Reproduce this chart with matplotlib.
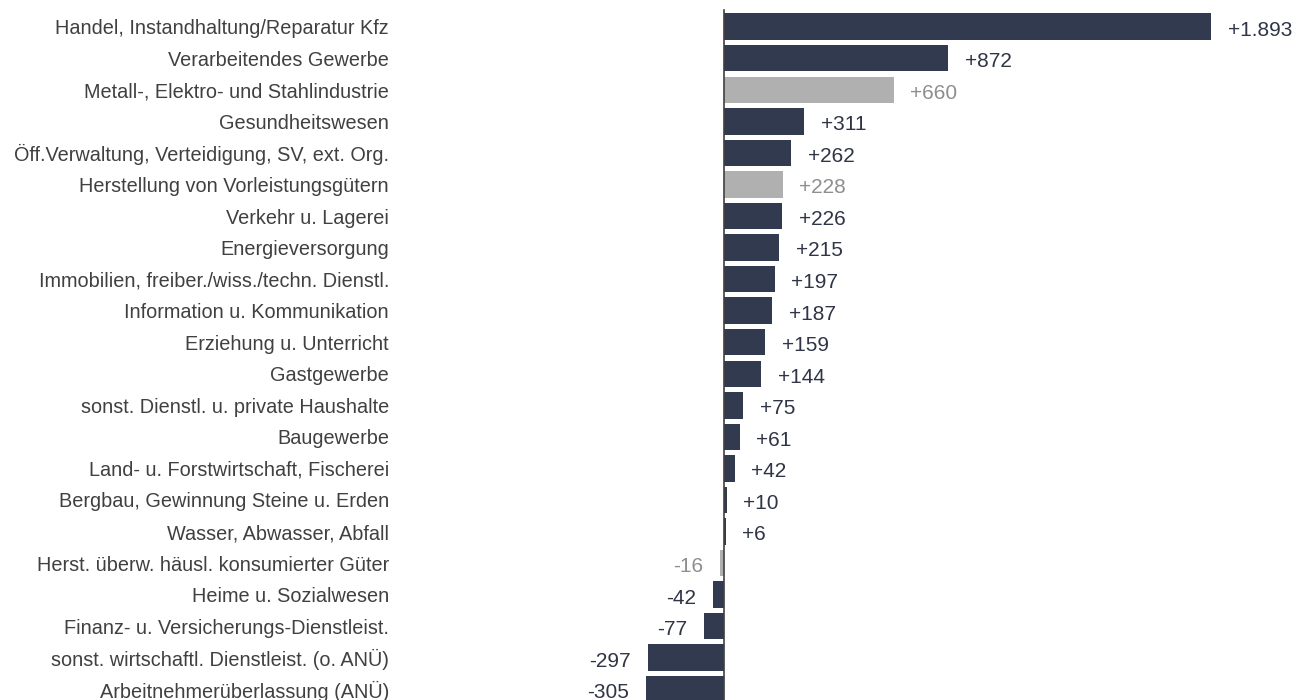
import matplotlib.pyplot as plt
from matplotlib.transforms import blended_transform_factory

plt.rcParams['font.family'] = ['Liberation Sans', 'DejaVu Sans']

categories = [
    "Handel, Instandhaltung/Reparatur Kfz",
    "Verarbeitendes Gewerbe",
    "Metall-, Elektro- und Stahlindustrie",
    "Gesundheitswesen",
    "Öff.Verwaltung, Verteidigung, SV, ext. Org.",
    "Herstellung von Vorleistungsgütern",
    "Verkehr u. Lagerei",
    "Energieversorgung",
    "Immobilien, freiber./wiss./techn. Dienstl.",
    "Information u. Kommunikation",
    "Erziehung u. Unterricht",
    "Gastgewerbe",
    "sonst. Dienstl. u. private Haushalte",
    "Baugewerbe",
    "Land- u. Forstwirtschaft, Fischerei",
    "Bergbau, Gewinnung Steine u. Erden",
    "Wasser, Abwasser, Abfall",
    "Herst. überw. häusl. konsumierter Güter",
    "Heime u. Sozialwesen",
    "Finanz- u. Versicherungs-Dienstleist.",
    "sonst. wirtschaftl. Dienstleist. (o. ANÜ)",
    "Arbeitnehmerüberlassung (ANÜ)",
]
values = [1893, 872, 660, 311, 262, 228, 226, 215, 197, 187, 159, 144,
          75, 61, 42, 10, 6, -16, -42, -77, -297, -305]
# sub-sectors of manufacturing are drawn in grey
highlight = [False, False, True, False, False, True, False, False, False,
             False, False, False, False, False, False, False, False, True,
             False, False, False, False]

dark = '#323a4f'
grey = '#b0b0b0'
dark_txt = '#2f3546'
grey_txt = '#8e8e8e'
label_txt = '#404040'


def fmt(v):
    s = f"{abs(v):,}".replace(",", ".")
    return ("+" if v > 0 else "-") + s


fig = plt.figure(figsize=(13.08, 7), dpi=100)
ax = fig.add_axes([0, 0, 1, 1])

ypos = list(range(len(values)))
colors = [grey if h else dark for h in highlight]
ax.barh(ypos, values, height=0.84, color=colors)

# zero at x=724px, 0.2573 px per unit
scale = 0.2573
ax.set_xlim(-724 / scale, (1308 - 724) / scale)
ax.set_ylim(21.34, -0.846)
ax.axis('off')
ax.axvline(0, ymin=0, ymax=0.986, color='#404040', lw=1.2)

for y, v, h in zip(ypos, values, highlight):
    c = grey_txt if h else dark_txt
    if v >= 0:
        ax.annotate(fmt(v), (v, y), xytext=(12, -1), textcoords='offset points',
                    ha='left', va='center_baseline', fontsize=15, color=c)
    else:
        ax.annotate(fmt(v), (v, y), xytext=(-12, -1), textcoords='offset points',
                    ha='right', va='center_baseline', fontsize=15, color=c)

trans = blended_transform_factory(fig.transFigure, ax.transData)
for y, cat in zip(ypos, categories):
    ax.text(389 / 1308, y, cat, transform=trans, ha='right', va='center_baseline',
            fontsize=14.3, color=label_txt)

fig.savefig('out.png', dpi=100)
